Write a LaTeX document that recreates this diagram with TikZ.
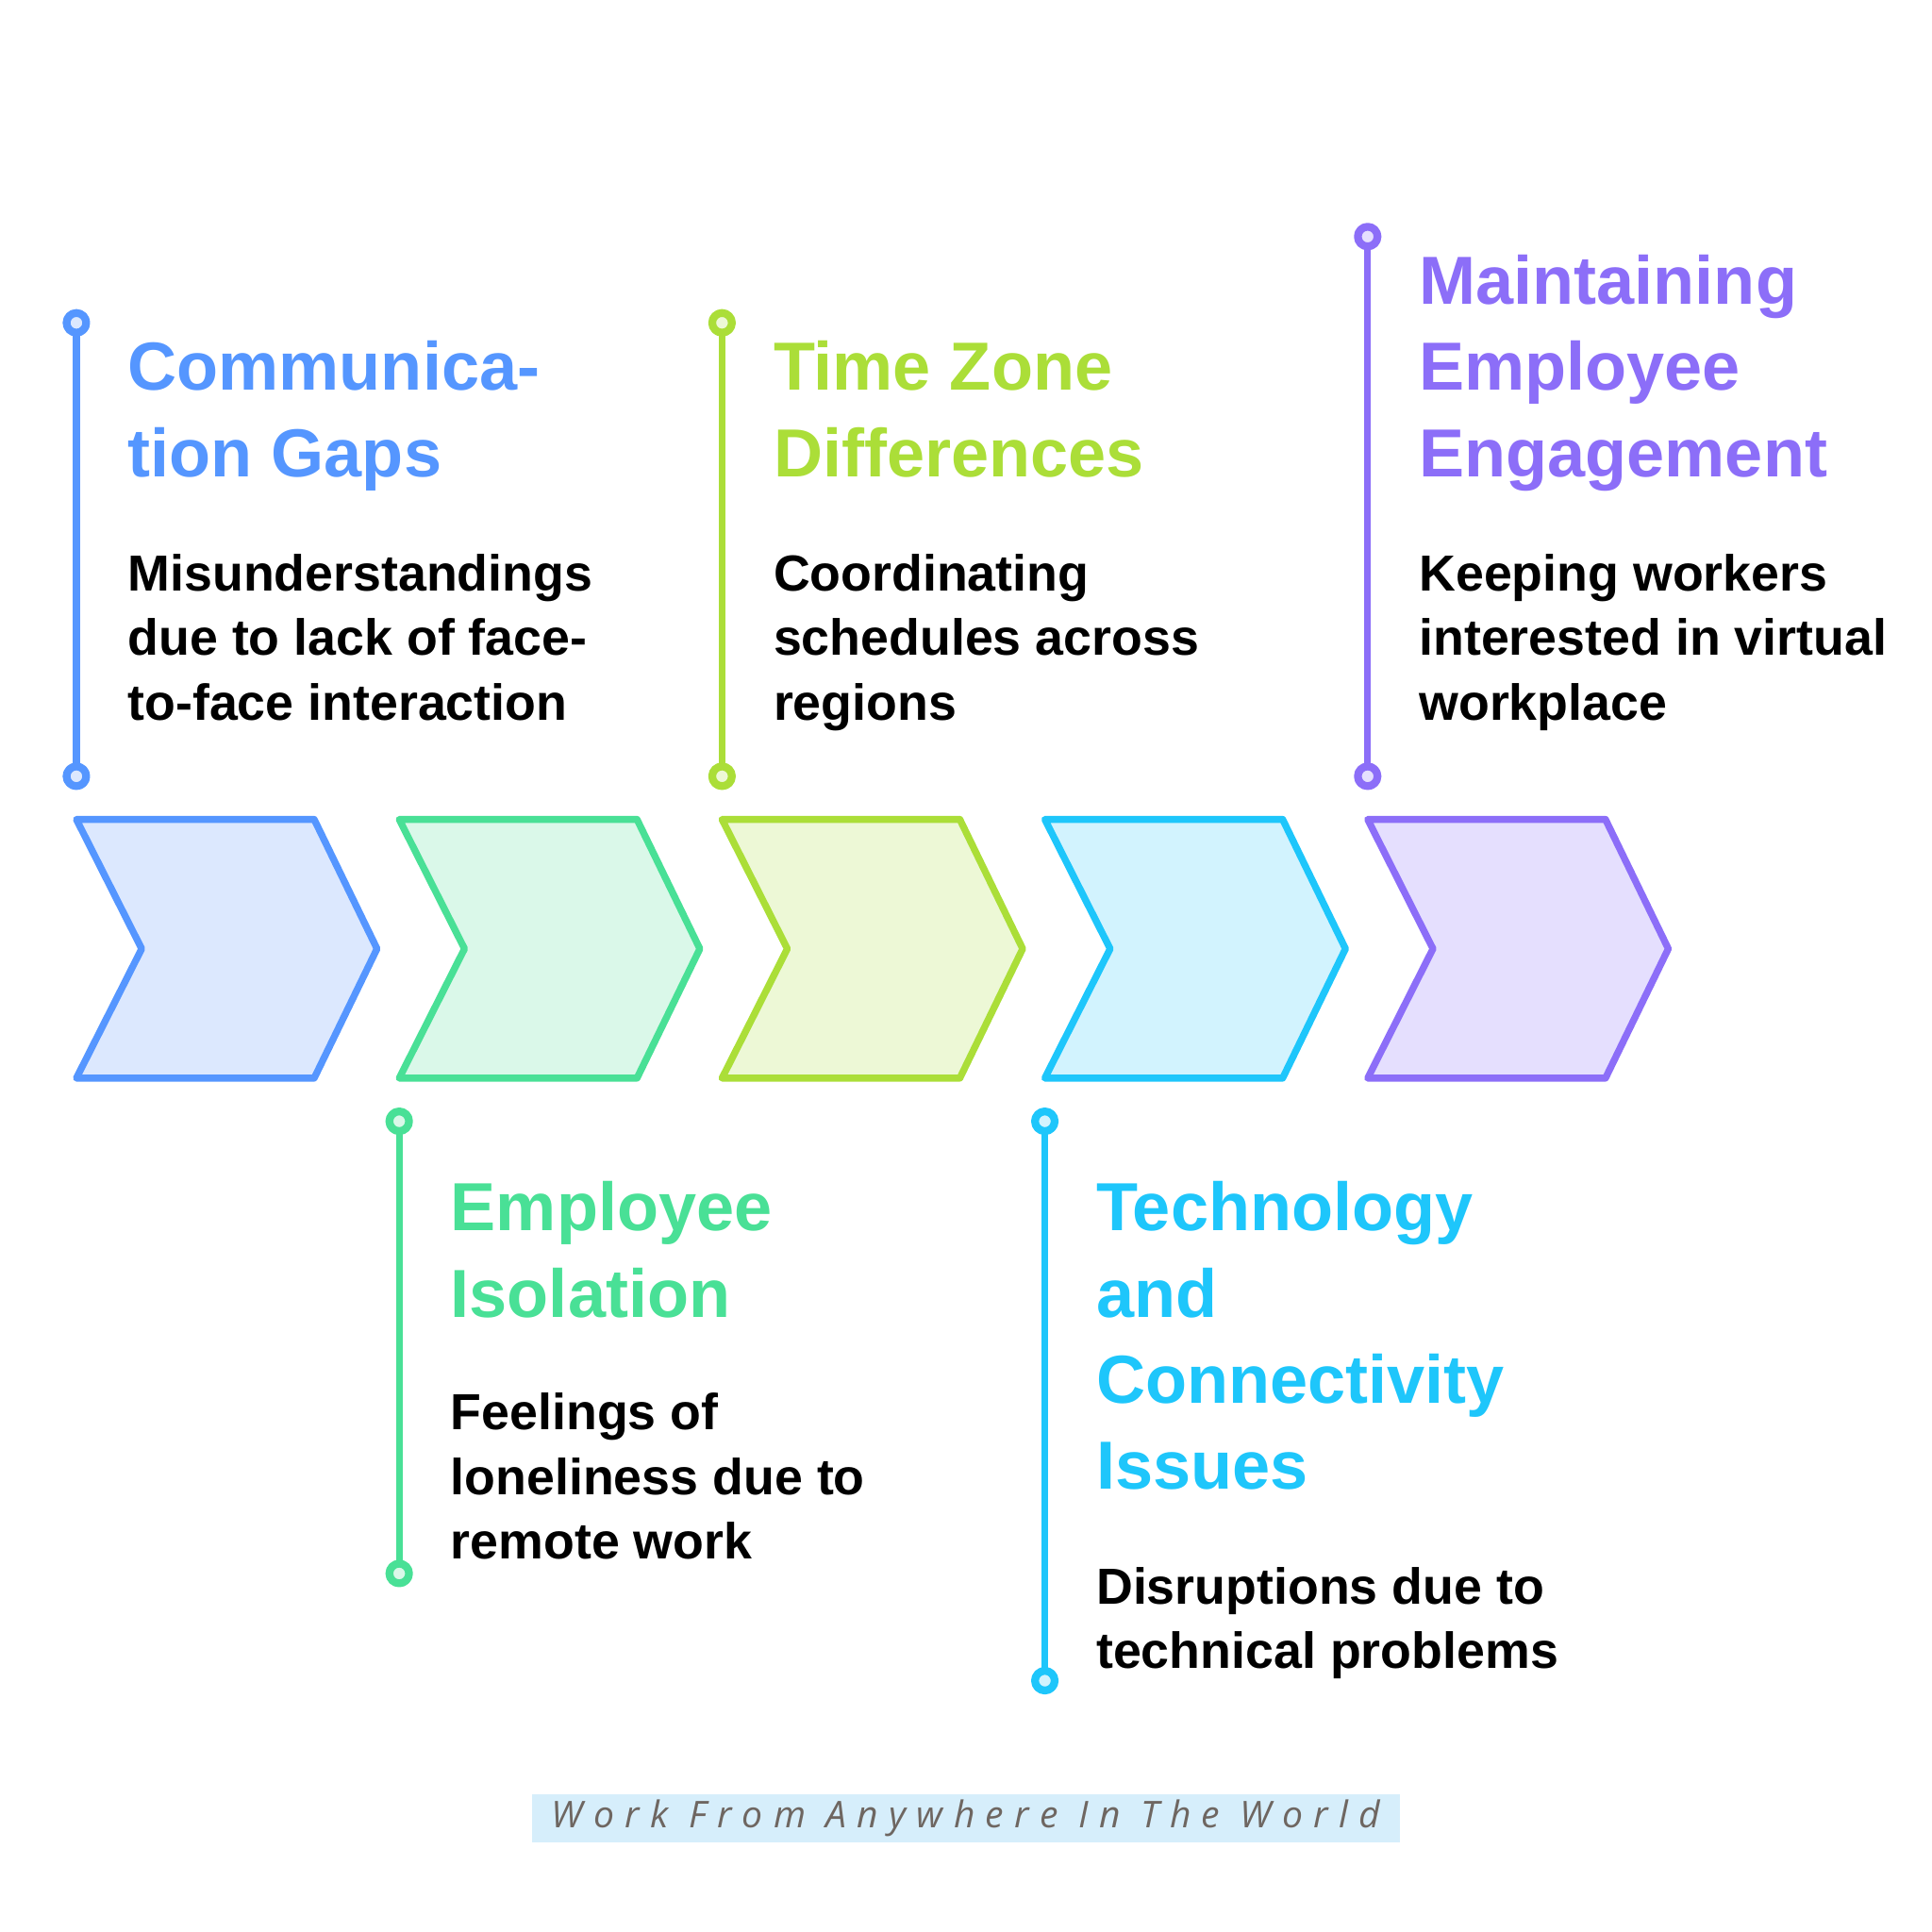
\documentclass[tikz,border=0pt]{standalone}
\usepackage{fontspec}
\setmainfont{Liberation Sans}
\newfontfamily\footfont[LetterSpace=29]{Open Sans}
\usepackage{tikz}

\definecolor{lineblue}{HTML}{5596FF}
\definecolor{fillblue}{HTML}{DCE8FE}
\definecolor{linegreen}{HTML}{49E096}
\definecolor{fillgreen}{HTML}{DAF8E9}
\definecolor{linelime}{HTML}{ABDE38}
\definecolor{filllime}{HTML}{EDF8D6}
\definecolor{linecyan}{HTML}{1EC6FB}
\definecolor{fillcyan}{HTML}{D2F3FE}
\definecolor{lineviolet}{HTML}{8C6EF8}
\definecolor{fillviolet}{HTML}{E5DFFE}
\definecolor{footfill}{HTML}{D6EEFB}
\definecolor{foottext}{HTML}{6E6661}

\begin{document}
\begin{tikzpicture}[x=0.01cm, y=-0.01cm, line width=1.6pt, line join=round]
  \tikzset{
    dot/.style={draw, circle, inner sep=0pt, minimum size=0.16cm, line width=1.8pt},
    head/.style={anchor=north west, inner sep=0pt, align=left,
      font=\fontsize{15.7}{19.9}\selectfont\bfseries},
    body/.style={anchor=north west, inner sep=0pt, align=left,
      font=\fontsize{11.7}{14.9}\selectfont\bfseries},
  }
  \useasboundingbox (0,0) rectangle (1568,1568);

  % Chevrons
  \foreach \i/\c in {0/blue, 1/green, 2/lime, 3/cyan, 4/violet} {
    \path ({62 + \i * 262}, 665) coordinate (ch-\i);
    \draw [draw=line\c, fill=fill\c] (ch-\i) -- ++(193,0) -- ++(51,105)
      -- ++(-51,105) -- ++(-193,0) -- ++(53,-105) -- cycle;
  }

  % Stems with end dots
  \foreach \i/\c/\x/\ya/\yb in {0/blue/62/262/630, 1/green/324/910/1277,
      2/lime/586/262/630, 3/cyan/848/910/1364, 4/violet/1110/192/630} {
    \draw [line\c] (\x, \ya) -- (\x, \yb);
    \node [dot, draw=line\c, fill=fill\c] (top-\i) at (\x, \ya) {};
    \node [dot, draw=line\c, fill=fill\c] (bot-\i) at (\x, \yb) {};
  }

  % Labels above
  \node [head, text=lineblue] (head-0) at (101, 274) {Communica-\\tion Gaps};
  \node [body] (body-0) at (101, 447) {Misunderstandings\\due to lack of face-\\to-face interaction};

  \node [head, text=linelime] (head-2) at (625, 274) {Time Zone\\Differences};
  \node [body] (body-2) at (625, 447) {Coordinating\\schedules across\\regions};

  \node [head, text=lineviolet] (head-4) at (1149, 204) {Maintaining\\Employee\\Engagement};
  \node [body] (body-4) at (1149, 447) {Keeping workers\\interested in virtual\\workplace};

  % Labels below
  \node [head, text=linegreen] (head-1) at (363, 956) {Employee\\Isolation};
  \node [body] (body-1) at (363, 1128) {Feelings of\\loneliness due to\\remote work};

  \node [head, text=linecyan] (head-3) at (887, 956) {Technology\\and\\Connectivity\\Issues};
  \node [body] (body-3) at (887, 1269) {Disruptions due to\\technical problems};

  % Footer
  \node [fill=footfill, minimum width=7.04cm, minimum height=0.39cm, inner sep=0pt,
    text=foottext, font=\footfont\itshape\fontsize{8.5}{8.5}\selectfont] (footer)
    at (784, 1476) {Work From Anywhere In The World};
\end{tikzpicture}
\end{document}
